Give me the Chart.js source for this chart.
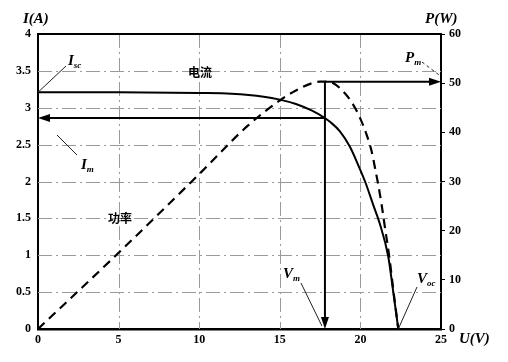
<!DOCTYPE html>
<html>
<head>
<meta charset="utf-8">
<script src="https://cdn.jsdelivr.net/npm/chart.js@4.4.0/dist/chart.umd.min.js"></script>
<style>
  html, body { margin: 0; padding: 0; background: #fff; }
  #wrap { width: 508px; height: 362px; position: relative; }
</style>
</head>
<body>
<div id="wrap"><canvas id="chart"></canvas></div>
<script>
// I-U curve (solid)
const VOLT_I = [0, 5, 10, 12, 14, 15, 16, 17, 17.8, 18.11, 18.73, 19.35, 19.87, 20.29, 20.8, 21.2, 21.73, 22.04, 22.35]
const CURR_I = [3.21, 3.21, 3.2, 3.19, 3.15, 3.11, 3.05, 2.96, 2.86, 2.81, 2.68, 2.47, 2.22, 2.0, 1.68, 1.43, 0.98, 0.5, 0]

// P-U curve (dashed)
const VOLT_P = [0, 5, 10, 13, 15, 16, 17, 17.5, 17.8, 18.32, 18.94, 19.56, 19.98, 20.39, 20.7, 20.91, 21.11, 21.32, 21.53, 21.8, 22.04, 22.35]
const POWER_P = [0, 15.5, 31.5, 41.3, 46.5, 48.5, 50, 50.3, 50.3, 50, 48.3, 45.6, 42.9, 39.5, 36.1, 32.7, 29.3, 25.2, 20.5, 14.5, 8, 0]

// maximum power point / characteristic values
const V_M = 17.8
const I_M = 2.86
const P_M = 50.3
const I_SC = 3.21
const V_OC = 22.35

const U_TICKS = [0, 25, 5]   // min, max, step
const I_TICKS = [0, 4, 0.5]
const P_TICKS = [0, 60, 10]

const SERIF = '"Liberation Serif", "Times New Roman", serif'
const CJK = '"Noto Sans CJK SC", "Noto Sans", sans-serif'
const TICK_FONT = { family: SERIF, size: 12, weight: 'bold' }
const GRID_GRAY = '#9a9a9a'
const GRID_DASH = [14, 4, 2, 4]

const toPoints = (xs, ys) => xs.map((x, i) => ({ x, y: ys[i] }))

function arrow(ctx, x1, y1, x2, y2) {
  const ang = Math.atan2(y2 - y1, x2 - x1)
  const len = 12
  const half = 4
  const bx = x2 - len * Math.cos(ang)
  const by = y2 - len * Math.sin(ang)
  ctx.beginPath()
  ctx.moveTo(x1, y1)
  ctx.lineTo(bx, by)
  ctx.stroke()
  ctx.beginPath()
  ctx.moveTo(x2, y2)
  ctx.lineTo(bx + half * Math.sin(ang), by - half * Math.cos(ang))
  ctx.lineTo(bx - half * Math.sin(ang), by + half * Math.cos(ang))
  ctx.closePath()
  ctx.fill()
}

function subLabel(ctx, main, sub, px, py) {
  ctx.font = `italic bold 15px ${SERIF}`
  ctx.fillText(main, px, py)
  const w = ctx.measureText(main).width
  ctx.font = `italic bold 9px ${SERIF}`
  ctx.fillText(sub, px + w, py + 3)
}

function leader(ctx, x1, y1, x2, y2, dash) {
  ctx.save()
  ctx.lineWidth = 1
  ctx.strokeStyle = '#222'
  ctx.setLineDash(dash || [])
  ctx.beginPath()
  ctx.moveTo(x1, y1)
  ctx.lineTo(x2, y2)
  ctx.stroke()
  ctx.restore()
}

// dash-dot grid on the inner ticks of the U and I scales
const dashGrid = {
  id: 'dashGrid',
  beforeDatasetsDraw(chart) {
    const { ctx, chartArea: a, scales: { x, yI } } = chart
    ctx.save()
    ctx.strokeStyle = GRID_GRAY
    ctx.lineWidth = 1
    ctx.setLineDash(GRID_DASH)
    for (const t of x.ticks) {
      if (t.value <= U_TICKS[0] || t.value >= U_TICKS[1]) continue
      const px = Math.round(x.getPixelForValue(t.value)) + 0.5
      ctx.beginPath()
      ctx.moveTo(px, a.top)
      ctx.lineTo(px, a.bottom)
      ctx.stroke()
    }
    for (const t of yI.ticks) {
      if (t.value <= I_TICKS[0] || t.value >= I_TICKS[1]) continue
      const py = Math.round(yI.getPixelForValue(t.value)) + 0.5
      ctx.beginPath()
      ctx.moveTo(a.left, py)
      ctx.lineTo(a.right, py)
      ctx.stroke()
    }
    ctx.restore()
  },
}

const overlay = {
  id: 'overlay',
  afterDatasetsDraw(chart) {
    const { ctx, chartArea: a, scales } = chart
    const { x, yI, yP } = scales
    ctx.save()
    ctx.strokeStyle = '#000'
    ctx.fillStyle = '#000'

    // top edge of the frame
    ctx.lineWidth = 2
    ctx.beginPath()
    ctx.moveTo(a.left, a.top)
    ctx.lineTo(a.right, a.top)
    ctx.stroke()

    // max power point arrows
    const xm = x.getPixelForValue(V_M)
    const yIm = yI.getPixelForValue(I_M)
    const yPm = yP.getPixelForValue(P_M)
    ctx.lineWidth = 2
    arrow(ctx, xm, yIm, x.getPixelForValue(U_TICKS[0]), yIm)
    arrow(ctx, xm, yPm, xm, yI.getPixelForValue(0))
    arrow(ctx, xm, yPm, x.getPixelForValue(U_TICKS[1]), yPm)

    // leader lines
    leader(ctx, x.getPixelForValue(0), yI.getPixelForValue(I_SC), 66, 66)
    leader(ctx, 57, 135, 77, 155)
    leader(ctx, 301, 283, xm - 3, yI.getPixelForValue(0) - 3)
    leader(ctx, 417, 287, x.getPixelForValue(V_OC), yI.getPixelForValue(0))
    leader(ctx, 422, 62, x.getPixelForValue(U_TICKS[1]) - 1, yPm - 6, [3, 3])

    // annotation labels
    ctx.textBaseline = 'alphabetic'
    ctx.textAlign = 'left'
    subLabel(ctx, 'I', 'sc', 68, 65)
    subLabel(ctx, 'I', 'm', 81, 169)
    subLabel(ctx, 'V', 'm', 283, 278)
    subLabel(ctx, 'V', 'oc', 417, 283)
    subLabel(ctx, 'P', 'm', 405, 62)

    ctx.font = `bold 12px ${CJK}`
    ctx.textAlign = 'center'
    ctx.textBaseline = 'middle'
    ctx.fillText('电流', 200, 72)
    ctx.fillText('功率', 120, 218)

    // axis titles
    ctx.textAlign = 'left'
    ctx.textBaseline = 'alphabetic'
    ctx.font = `italic bold 15px ${SERIF}`
    ctx.fillText('I(A)', 23, 23)
    ctx.fillText('P(W)', 425, 23)
    ctx.fillText('U(V)', 459, 343)
    ctx.restore()
  },
}

new Chart(document.getElementById('chart'), {
  type: 'line',
  data: {
    datasets: [
      {
        label: '电流',
        data: toPoints(VOLT_I, CURR_I),
        yAxisID: 'yI',
        borderColor: '#000',
        borderWidth: 2,
        pointRadius: 0,
        cubicInterpolationMode: 'monotone',
        fill: false,
      },
      {
        label: '功率',
        data: toPoints(VOLT_P, POWER_P),
        yAxisID: 'yP',
        borderColor: '#000',
        borderWidth: 2.2,
        borderDash: [9, 6],
        pointRadius: 0,
        cubicInterpolationMode: 'monotone',
        fill: false,
      },
    ],
  },
  options: {
    responsive: true,
    maintainAspectRatio: false,
    animation: false,
    devicePixelRatio: 1,
    layout: { padding: { top: 34, left: 0, right: 0, bottom: 0 } },
    plugins: { legend: { display: false }, tooltip: { enabled: false } },
    scales: {
      x: {
        type: 'linear',
        min: U_TICKS[0],
        max: U_TICKS[1],
        ticks: { stepSize: U_TICKS[2], color: '#000', font: TICK_FONT, padding: 4, maxRotation: 0 },
        grid: { display: false, drawTicks: false },
        border: { display: true, color: '#000', width: 2.5 },
        afterFit: (s) => { s.height = 33 },
      },
      yI: {
        position: 'left',
        min: I_TICKS[0],
        max: I_TICKS[1],
        ticks: { stepSize: I_TICKS[2], color: '#000', font: TICK_FONT, padding: 7, callback: (v) => String(v) },
        grid: { display: false, drawTicks: false },
        border: { display: true, color: '#000', width: 2 },
        afterFit: (s) => { s.width = 38 },
      },
      yP: {
        position: 'right',
        min: P_TICKS[0],
        max: P_TICKS[1],
        ticks: { stepSize: P_TICKS[2], color: '#000', font: TICK_FONT, padding: 4 },
        grid: { drawOnChartArea: false, drawTicks: true, tickLength: 4, color: '#000', lineWidth: 1 },
        border: { color: '#000', width: 2 },
        afterFit: (s) => { s.width = 67 },
      },
    },
  },
  plugins: [dashGrid, overlay],
})
</script>
</body>
</html>
